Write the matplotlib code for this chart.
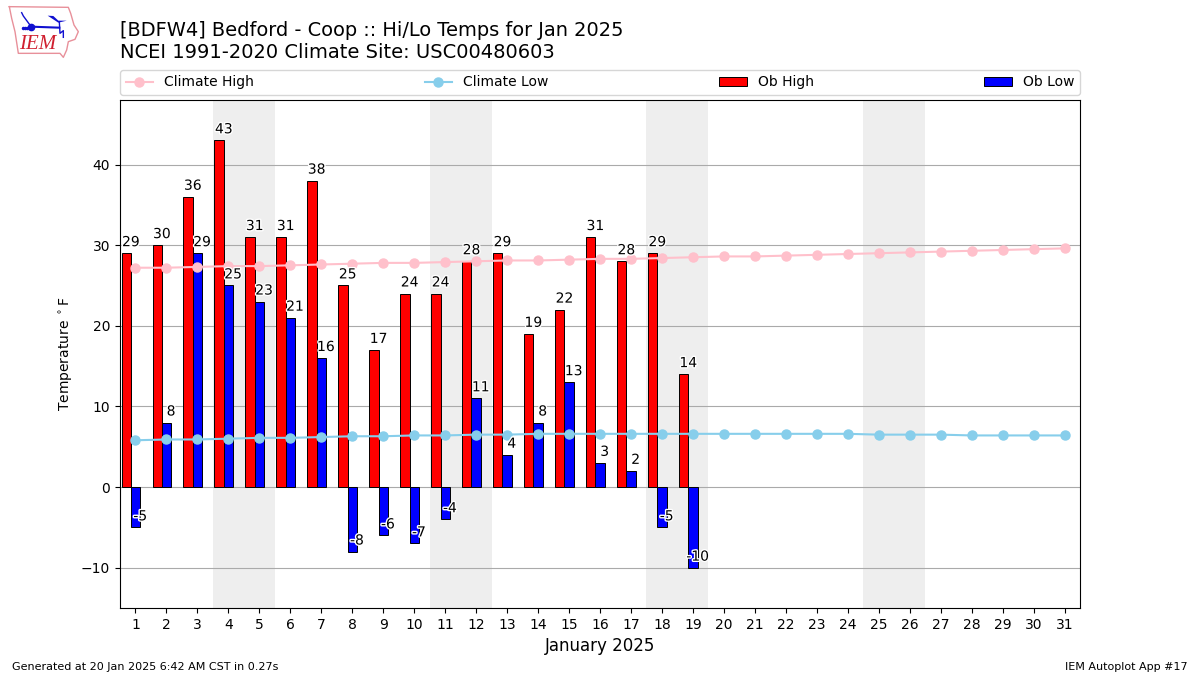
import numpy as np
import matplotlib
matplotlib.use('Agg')
import matplotlib.pyplot as plt
import matplotlib.patheffects as pe

days = list(range(1, 32))
ob_days = list(range(1, 20))
ob_high = [29, 30, 36, 43, 31, 31, 38, 25, 17, 24, 24, 28, 29, 19, 22, 31, 28, 29, 14]
ob_low = [-5, 8, 29, 25, 23, 21, 16, -8, -6, -7, -4, 11, 4, 8, 13, 3, 2, -5, -10]
climate_high = [27.2, 27.2, 27.3, 27.4, 27.4, 27.5, 27.6, 27.7, 27.8, 27.8, 27.9,
                28.0, 28.1, 28.1, 28.2, 28.3, 28.3, 28.4, 28.5, 28.6, 28.6, 28.7,
                28.8, 28.9, 29.0, 29.1, 29.2, 29.3, 29.4, 29.5, 29.6]
climate_low = [5.8, 5.9, 5.9, 6.0, 6.1, 6.1, 6.2, 6.3, 6.3, 6.4, 6.4, 6.5, 6.5,
               6.6, 6.6, 6.6, 6.6, 6.6, 6.6, 6.6, 6.6, 6.6, 6.6, 6.6, 6.5, 6.5,
               6.5, 6.4, 6.4, 6.4, 6.4]
weekends = [4, 11, 18, 25]

W, H = 1200, 675
fig = plt.figure(figsize=(12, 6.75), dpi=100)
ax = fig.add_axes([120 / W, 1 - 608 / H, 960 / W, 508 / H])

# weekend shading
for d in weekends:
    ax.axvspan(d - 0.5, d + 1.5, color='#EEEEEE', lw=0, zorder=0)
ax.grid(axis='y', color='#aaaaaa', lw=0.8, zorder=1)
ax.set_axisbelow(True)

days_arr = np.array(ob_days)
ax.bar(days_arr - 0.3, ob_high, width=0.3, color='r', edgecolor='k', lw=0.7, zorder=2, label='Ob High')
ax.bar(days_arr, ob_low, width=0.3, color='b', edgecolor='k', lw=0.7, zorder=2, label='Ob Low')
ax.plot(days, climate_high, color='pink', marker='o', ms=6.5, lw=1.5, zorder=3, label='Climate High')
ax.plot(days, climate_low, color='skyblue', marker='o', ms=6.5, lw=1.5, zorder=3, label='Climate Low')

stroke = [pe.withStroke(linewidth=2, foreground='white')]
for d, hi, lo in zip(ob_days, ob_high, ob_low):
    ax.text(d - 0.15, hi + 0.5, str(hi), ha='center', va='bottom', fontsize=10, zorder=5, path_effects=stroke)
    ax.text(d + 0.15, lo + 0.5, str(lo), ha='center', va='bottom', fontsize=10, zorder=5, path_effects=stroke)

ax.set_xlim(0.5, 31.5)
ax.set_ylim(-15, 48)
ax.set_xticks(days)
ax.set_yticks([-10, 0, 10, 20, 30, 40])
ax.tick_params(labelsize=10)
ax.set_xlabel('January 2025', fontsize=12)
ax.set_ylabel(r'Temperature $^\circ$F', fontsize=10)

handles, labels = ax.get_legend_handles_labels()
order = [labels.index(s) for s in ['Climate High', 'Climate Low', 'Ob High', 'Ob Low']]
ax.legend([handles[i] for i in order], [labels[i] for i in order], ncol=4, mode='expand',
          loc='lower left', bbox_to_anchor=(0, 1.01, 1, 0.05), borderaxespad=0, fontsize=10)

fig.text(120 / W, 1 - 36 / H, '[BDFW4] Bedford - Coop :: Hi/Lo Temps for Jan 2025', fontsize=13.95, va='baseline')
fig.text(120 / W, 1 - 58 / H, 'NCEI 1991-2020 Climate Site: USC00480603', fontsize=14, va='baseline')
fig.text(12 / W, 1 - 670 / H, 'Generated at 20 Jan 2025 6:42 AM CST in 0.27s', fontsize=8)
fig.text(1188 / W, 1 - 670 / H, 'IEM Autoplot App #17', fontsize=8, ha='right')

# logo, traced in 3x pixel coords of the top left corner
logo = fig.add_axes([0, 1 - 62 / H, 82 / W, 62 / H])
logo.set_xlim(0, 246)
logo.set_ylim(186, 0)
logo.axis('off')
iowa_x = [28, 205, 212, 222, 235, 225, 205, 200, 190, 180, 55, 45, 35, 28]
iowa_y = [20, 22, 40, 75, 95, 118, 125, 150, 172, 160, 160, 95, 55, 20]
logo.plot(iowa_x, iowa_y, color='#e8909a', lw=1)
logo.plot([93, 178], [80, 83], color='#1010d0', lw=1.5)
logo.plot([93], [80], 'o', color='#1010d0', ms=4.5)
logo.fill([143, 160, 175, 200, 175], [47, 48, 62, 62, 68], color='#1010d0', lw=0)
logo.plot([65, 70, 92], [38, 48, 78], color='#1010d0', lw=1)
logo.plot([178, 180, 190, 190], [66, 100, 92, 112], color='#1010d0', lw=1)
logo.plot([70, 75, 80], [85, 85, 85], ls='none', marker='o', ms=1.5, color='#1010d0')
logo.text(112, 133, 'IEM', color='#d02030', fontsize=15, family='Liberation Serif', style='italic',
          ha='center', va='center')

fig.savefig('out.png', dpi=100)
